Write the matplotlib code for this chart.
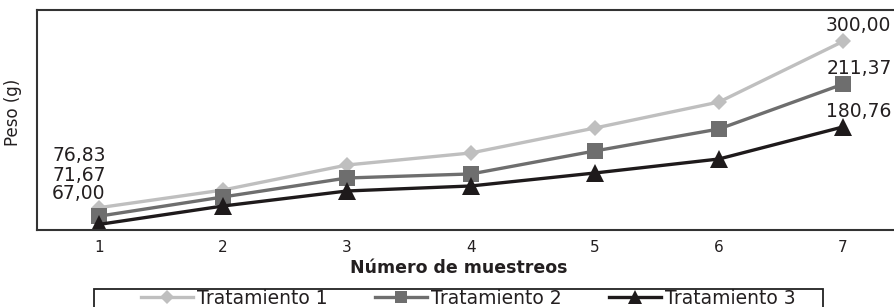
import matplotlib.pyplot as plt
from matplotlib.patches import Rectangle

# data (y axis has no ticks, log-like spacing)
muestreos = [1, 2, 3, 4, 5, 6, 7]
tratamiento_1 = [76.83, 88.8, 109.0, 120.3, 147.6, 182.6, 300.00]
tratamiento_2 = [71.67, 83.9, 98.0, 101.3, 122.3, 146.4, 211.37]
tratamiento_3 = [67.00, 77.9, 88.1, 91.8, 102.1, 114.5, 148.9]
series_names = ["Tratamiento 1", "Tratamiento 2", "Tratamiento 3"]
labels_first = ["76,83", "71,67", "67,00"]
labels_last = ["300,00", "211,37", "180,76"]

W, H = 895, 307
fig = plt.figure(figsize=(W / 100, H / 100), dpi=100)
ax = fig.add_axes([37 / W, 1 - 230 / H, 868 / W, 220 / H])

txt = "#231f20"
styles = [
    dict(color="#bfbfbf", marker="D", markersize=8.5),
    dict(color="#6e6e6e", marker="s", markersize=11.5),
    dict(color="#1e1a1b", marker="^", markersize=13),
]
series = [tratamiento_1, tratamiento_2, tratamiento_3]

lines = []
for vals, name, st in zip(series, series_names, styles):
    ln, = ax.plot(muestreos, vals, linewidth=2.4, label=name,
                  markeredgewidth=0, **st)
    lines.append(ln)

# data labels at first and last sample
first_offsets = [(-14.5, 37.5), (-14.5, 29.5), (-14.5, 22)]
last_offsets = [(11, 11.5), (12, 11.5), (11.5, 11)]
for vals, lf, ll, fo, lo in zip(series, labels_first, labels_last,
                                first_offsets, last_offsets):
    ax.annotate(lf, (muestreos[0], vals[0]), xytext=fo, textcoords="offset points",
                ha="center", va="center", fontsize=13.5, color=txt)
    ax.annotate(ll, (muestreos[-1], vals[-1]), xytext=lo, textcoords="offset points",
                ha="center", va="center", fontsize=13.5, color=txt)

ax.set_yscale("log")
ax.set_ylim(64.0, 388)
ax.set_xlim(0.5, 7.5)
ax.set_xticks(muestreos)
ax.set_xticklabels([str(m) for m in muestreos])
ax.tick_params(axis="x", length=0, pad=7, labelsize=11, labelcolor=txt)
ax.tick_params(axis="y", which="both", left=False, labelleft=False)
for s in ax.spines.values():
    s.set_color("#333333")
    s.set_linewidth(1.5)

fig.text(459 / W, 1 - 268 / H, "Número de muestreos", ha="center", va="center",
         fontsize=12.5, fontweight="bold", color=txt)
fig.text(13 / W, 1 - 112 / H, "Peso (g)", ha="center", va="center",
         rotation=90, fontsize=12, color=txt)

# legend box (bottom edge runs past the figure, as in the reference)
fig.patches.append(Rectangle((94 / W, 1 - 330 / H), 729 / W, 41 / H,
                             transform=fig.transFigure, fill=False,
                             edgecolor="#222222", linewidth=1.3))
fig.legend(handles=lines, loc="center left", bbox_to_anchor=(141 / W, 1 - 298.5 / H),
           ncol=3, frameon=False, fontsize=13.5, handlelength=2.8,
           handletextpad=0.2, columnspacing=2.5, borderpad=0, borderaxespad=0,
           markerscale=0.8, labelcolor=txt)

fig.savefig("out.png", dpi=100)
